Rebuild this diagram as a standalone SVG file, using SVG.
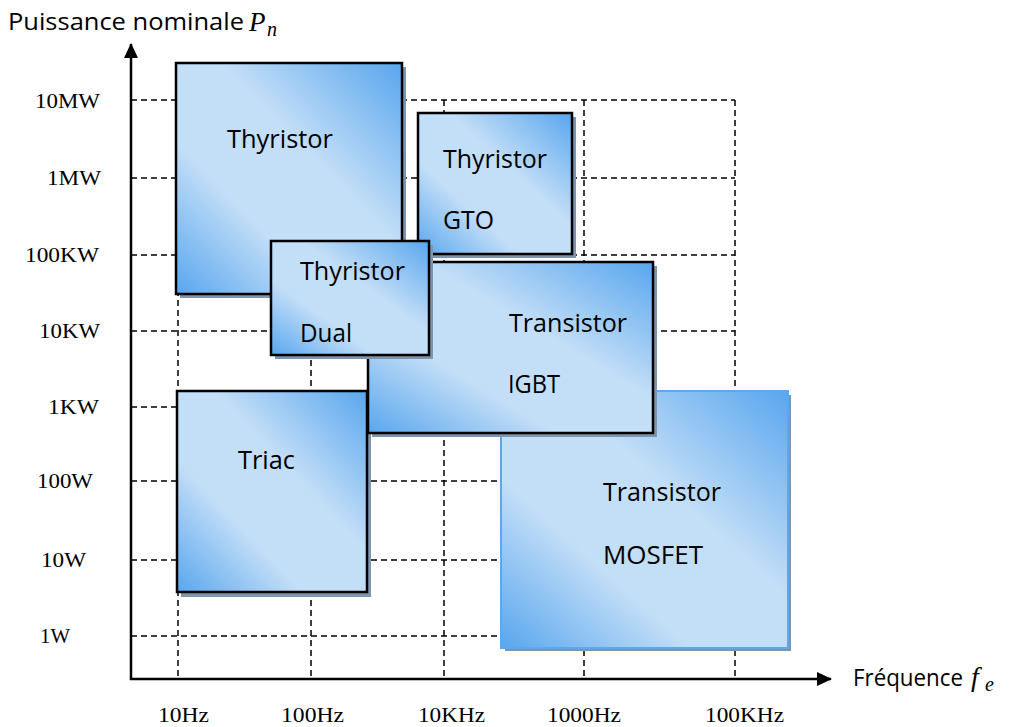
<svg xmlns="http://www.w3.org/2000/svg" width="1015" height="727" viewBox="0 0 1015 727">
<style>
.grid{stroke:#000;stroke-width:1.5;stroke-dasharray:6 4;fill:none}
.axis{stroke:#000;stroke-width:2.5;fill:none}
.box{fill:url(#g);stroke:#000;stroke-width:2.5}
.shadow{fill:#7f94ad}
.lbl{font-family:"Open Sans","Noto Sans",sans-serif;font-size:26px;fill:#000}
.ylbl{font-family:"Liberation Serif",serif;font-size:20px;fill:#000}
.xlbl{font-family:"Liberation Serif",serif;font-size:21px;fill:#000}
.title{font-family:"Open Sans","Noto Sans",sans-serif;font-size:23px;fill:#000}
.math{font-family:"Liberation Serif",serif;font-style:italic;fill:#000}
</style>
<defs>
<linearGradient id="g" x1="0" y1="1" x2="1" y2="0">
<stop offset="0" stop-color="#58a6ee"/>
<stop offset="0.33" stop-color="#c3def7"/>
<stop offset="0.6" stop-color="#c3def7"/>
<stop offset="1" stop-color="#58a6ee"/>
</linearGradient>
<marker id="arr" markerWidth="16" markerHeight="14" refX="14" refY="7" orient="auto" markerUnits="userSpaceOnUse">
<path d="M0,0 L15,7 L0,14 Z" fill="#000"/>
</marker>
</defs>

<g id="grid">
<path class="grid" d="M131,100H735M131,178H735M131,255H735M131,331H735M131,407H735M131,481H735M131,560H735M131,636H735"/>
<path class="grid" d="M178,100V679M311,100V679M444,100V679M584,100V679M735,100V679"/>
</g>

<g id="axes">
<line class="axis" x1="131" y1="680" x2="131" y2="44" marker-end="url(#arr)"/>
<line class="axis" x1="130" y1="679" x2="831" y2="679" marker-end="url(#arr)"/>
<text class="title" x="8" y="30" textLength="236" lengthAdjust="spacingAndGlyphs">Puissance nominale</text>
<text class="math" x="249" y="31" font-size="27">P</text>
<text class="math" x="267" y="36" font-size="20">n</text>
<text class="title" x="853" y="686" textLength="110" lengthAdjust="spacingAndGlyphs">Fréquence</text>
<text class="math" x="971" y="686" font-size="28">f</text>
<text class="math" x="985" y="691" font-size="20">e</text>
</g>

<g id="ylabels">
<text class="ylbl" x="35" y="108" textLength="65" lengthAdjust="spacingAndGlyphs">10MW</text>
<text class="ylbl" x="47" y="185" textLength="54" lengthAdjust="spacingAndGlyphs">1MW</text>
<text class="ylbl" x="25" y="262" textLength="74" lengthAdjust="spacingAndGlyphs">100KW</text>
<text class="ylbl" x="39" y="338" textLength="61" lengthAdjust="spacingAndGlyphs">10KW</text>
<text class="ylbl" x="48" y="414" textLength="51" lengthAdjust="spacingAndGlyphs">1KW</text>
<text class="ylbl" x="37" y="488" textLength="56" lengthAdjust="spacingAndGlyphs">100W</text>
<text class="ylbl" x="41" y="567" textLength="45" lengthAdjust="spacingAndGlyphs">10W</text>
<text class="ylbl" x="40" y="643" textLength="30" lengthAdjust="spacingAndGlyphs">1W</text>
</g>

<g id="xlabels">
<text class="xlbl" x="158" y="722" textLength="51" lengthAdjust="spacingAndGlyphs">10Hz</text>
<text class="xlbl" x="281" y="722" textLength="63" lengthAdjust="spacingAndGlyphs">100Hz</text>
<text class="xlbl" x="418" y="722" textLength="67" lengthAdjust="spacingAndGlyphs">10KHz</text>
<text class="xlbl" x="547" y="722" textLength="74" lengthAdjust="spacingAndGlyphs">1000Hz</text>
<text class="xlbl" x="705" y="722" textLength="79" lengthAdjust="spacingAndGlyphs">100KHz</text>
</g>

<g id="mosfet">
<rect class="shadow" x="505" y="395" width="286" height="256"/>
<rect x="501" y="391" width="287" height="257" fill="url(#g)" stroke="#5ba8ee" stroke-width="2"/>
<text class="lbl" x="603" y="501" textLength="118" lengthAdjust="spacingAndGlyphs">Transistor</text>
<text class="lbl" x="603" y="564" textLength="100" lengthAdjust="spacingAndGlyphs">MOSFET</text>
</g>

<g id="triac">
<rect class="shadow" x="181" y="395" width="190" height="202"/>
<rect class="box" x="177" y="391" width="190" height="201"/>
<text class="lbl" x="238" y="469" textLength="57" lengthAdjust="spacingAndGlyphs">Triac</text>
</g>

<g id="thyristor">
<rect class="shadow" x="180" y="67" width="226" height="231"/>
<rect class="box" x="176" y="63" width="226" height="231"/>
<text class="lbl" x="227" y="148" textLength="106" lengthAdjust="spacingAndGlyphs">Thyristor</text>
</g>

<g id="gto">
<rect class="shadow" x="422" y="117" width="154" height="141"/>
<rect class="box" x="418" y="113" width="154" height="141"/>
<text class="lbl" x="443" y="168" textLength="104" lengthAdjust="spacingAndGlyphs">Thyristor</text>
<text class="lbl" x="443" y="229" textLength="51" lengthAdjust="spacingAndGlyphs">GTO</text>
</g>

<g id="igbt">
<rect class="shadow" x="372" y="266" width="285" height="171"/>
<rect class="box" x="368" y="262" width="285" height="171"/>
<text class="lbl" x="509" y="332" textLength="118" lengthAdjust="spacingAndGlyphs">Transistor</text>
<text class="lbl" x="508" y="393" textLength="52" lengthAdjust="spacingAndGlyphs">IGBT</text>
</g>

<g id="dual">
<rect class="shadow" x="275" y="245" width="158" height="114"/>
<rect class="box" x="271" y="241" width="158" height="114"/>
<text class="lbl" x="300" y="280" textLength="105" lengthAdjust="spacingAndGlyphs">Thyristor</text>
<text class="lbl" x="300" y="342" textLength="52" lengthAdjust="spacingAndGlyphs">Dual</text>
</g>
</svg>
